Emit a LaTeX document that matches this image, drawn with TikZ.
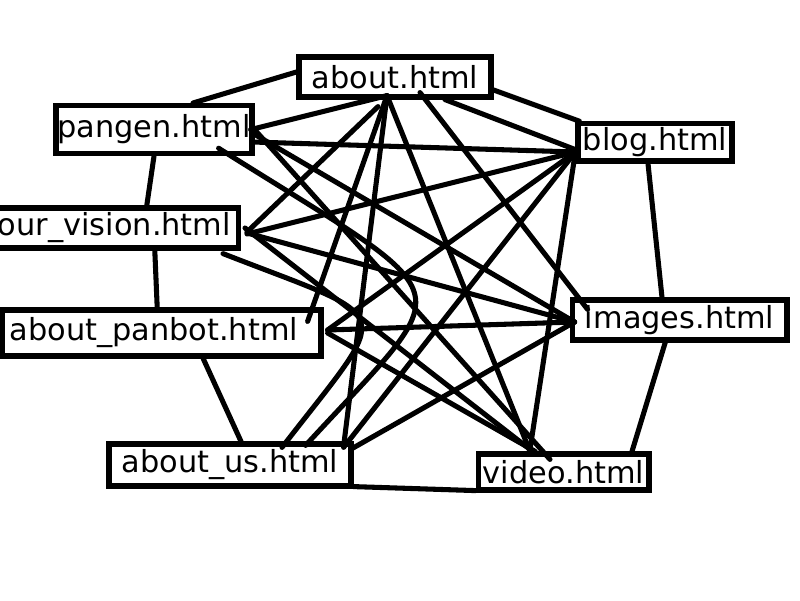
\documentclass[tikz,border=0pt]{standalone}
\usepackage{fontspec}
\setmainfont{DejaVu Sans}
\usepackage{tikz}
\usetikzlibrary{positioning}

\begin{document}
\begin{tikzpicture}[
    sitePage/.style={
        rectangle,
        draw=black, line width=3.7pt,
        fill=white, text=black,
        font=\fontsize{21.6}{25}\selectfont,
        inner sep=0pt
    },
    siteLink/.style={
        line width=3.6pt, draw=black, line cap=round
    }
]
    \useasboundingbox (0,0) rectangle (20,15);

    % Pages
    \node[sitePage, minimum width=4.8cm, minimum height=1.0cm] (about) at (9.875, 13.075) {about.html};
    \node[sitePage, minimum width=4.9cm, minimum height=1.2cm] (pangen) at (3.85, 11.76) {pangen.html};
    \node[sitePage, minimum width=3.85cm, minimum height=0.93cm] (blog) at (16.375, 11.44) {blog.html};
    \node[sitePage, minimum width=6.2cm, minimum height=1.0cm] (ourVision) at (2.86, 9.3) {our\_vision.html};
    \node[sitePage, minimum width=5.37cm, minimum height=1.0cm] (images) at (16.99, 7.0) {images.html};
    \node[sitePage, minimum width=7.97cm, minimum height=1.15cm,
          align=left, text width=7.6cm] (aboutPanbot) at (4.04, 6.675) {about\_panbot.html};
    \node[sitePage, minimum width=6.05cm, minimum height=1.05cm] (aboutUs) at (5.75, 3.375) {about\_us.html};
    \node[sitePage, minimum width=4.27cm, minimum height=0.9cm] (video) at (14.09, 3.2) {video.html};

    % Outer ring
    \draw[siteLink] ([xshift=0.975cm]pangen.north) -- ([yshift=0.125cm]about.west);
    \draw[siteLink] ([yshift=-0.325cm]about.east) -- ([xshift=0.1cm]blog.north west);
    \draw[siteLink] ([xshift=-0.175cm]blog.south) -- ([xshift=-0.44cm]images.north);
    \draw[siteLink] ([xshift=-0.36cm]images.south) -- ([xshift=1.71cm]video.north);
    \draw[siteLink] ([yshift=0.05cm]video.south west) -- ([yshift=0.05cm]aboutUs.south east);
    \draw[siteLink] ([xshift=0.275cm]aboutUs.north) -- ([xshift=1.04cm]aboutPanbot.south);
    \draw[siteLink] ([xshift=-0.11cm]aboutPanbot.north) -- ([xshift=1.01cm]ourVision.south);
    \draw[siteLink] ([xshift=0.81cm]ourVision.north) -- (pangen.south);

    % Links from about
    \draw[siteLink] ([shift={(-0.2,0.1)}]about.south) -- ([xshift=-0.1cm]pangen.east);
    \draw[siteLink] ([shift={(-0.425,-0.175)}]about.south) -- ([shift={(0.15,-0.1)}]ourVision.east);
    \draw[siteLink] ([shift={(-0.2,0.1)}]about.south) -- ([shift={(-0.4,-0.35)}]aboutPanbot.north east);
    \draw[siteLink] ([shift={(-0.2,0.1)}]about.south) -- ([shift={(-0.25,-0.125)}]aboutUs.north east);
    \draw[siteLink] ([shift={(-0.2,0.1)}]about.south) -- ([xshift=-0.84cm]video.north);
    \draw[siteLink] ([shift={(0.625,0.175)}]about.south) -- ([shift={(0.45,-0.3)}]images.north west);
    \draw[siteLink] ([xshift=1.25cm]about.south) -- ([shift={(0.025,-0.19)}]blog.west);

    % Links from blog
    \draw[siteLink] ([yshift=-0.24cm]blog.west) -- ([shift={(-0.05,-0.31)}]pangen.east);
    \draw[siteLink] ([yshift=-0.24cm]blog.west) -- ([shift={(0.15,-0.15)}]ourVision.east);
    \draw[siteLink] ([yshift=-0.24cm]blog.west) -- ([shift={(0.1,0.075)}]aboutPanbot.east);
    \draw[siteLink] ([yshift=-0.24cm]blog.west) -- ([shift={(-0.25,-0.15)}]aboutUs.north east);
    \draw[siteLink] ([yshift=-0.24cm]blog.west) -- ([shift={(-0.84,0.05)}]video.north);

    % Links to images
    \draw[siteLink] ([shift={(-0.05,-0.09)}]pangen.east) -- ([shift={(0.125,-0.05)}]images.west);
    \draw[siteLink] ([shift={(0.15,-0.125)}]ourVision.east) -- ([shift={(0.125,-0.05)}]images.west);
    \draw[siteLink] ([shift={(0.1,0.075)}]aboutPanbot.east) -- ([shift={(0.125,-0.05)}]images.west);
    \draw[siteLink] ([shift={(-0.075,-0.2)}]aboutUs.north east) -- ([shift={(0.125,-0.05)}]images.west);

    % Links to video
    \draw[siteLink] (pangen.east) -- ([shift={(-0.34,-0.2)}]video.north);
    \draw[siteLink] ([xshift=0.1cm]ourVision.east) -- ([shift={(-0.84,0.05)}]video.north);
    \draw[siteLink] ([xshift=0.1cm]aboutPanbot.east) -- ([xshift=-0.71cm]video.north);

    % Bent links to about_us
    \draw[siteLink] ([shift={(-0.9,0.2)}]pangen.south east)
        .. controls +(6.275,-3.95) and +(3.875,4.225) .. ([shift={(-1.2,-0.1)}]aboutUs.north east);
    \draw[siteLink] ([shift={(-0.45,-0.075)}]ourVision.south east)
        .. controls +(4.425,-1.725) and +(2.8,3.625) .. ([shift={(1.3,-0.15)}]aboutUs.north);

\end{tikzpicture}
\end{document}
